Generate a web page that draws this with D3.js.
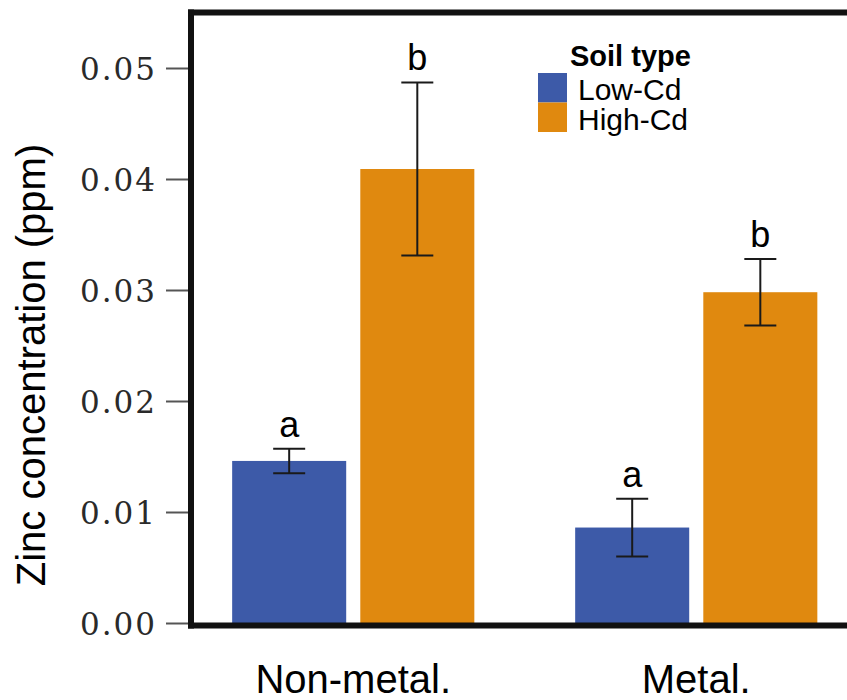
<!DOCTYPE html>
<html>
<head>
<meta charset="utf-8">
<script src="https://cdn.jsdelivr.net/npm/d3@7/dist/d3.min.js"></script>
<style>
  html, body { margin: 0; padding: 0; background: #fff; }
  svg { display: block; }
</style>
</head>
<body>
<svg id="chart" width="847" height="700"></svg>
<script>
// Zinc concentration by site and soil type (mean ± SE)
const sites = ["Non-metal.", "Metal."];
const soilTypes = ["Low-Cd", "High-Cd"];
const lowCdMean = [0.0146, 0.0086];
const lowCdSE = [0.0011, 0.0026];
const highCdMean = [0.0409, 0.0298];
const highCdSE = [0.0078, 0.0030];
const lowCdLetters = ["a", "a"];
const highCdLetters = ["b", "b"];
const yTicks = [0, 0.01, 0.02, 0.03, 0.04, 0.05];
const colors = ["#3d5aa8", "#e0890f"];

const rows = [];
sites.forEach((s, i) => {
  rows.push({ site: s, soil: soilTypes[0], mean: lowCdMean[i], se: lowCdSE[i], letter: lowCdLetters[i] });
  rows.push({ site: s, soil: soilTypes[1], mean: highCdMean[i], se: highCdSE[i], letter: highCdLetters[i] });
});

const svg = d3.select("#chart");
const plotLeft = 191, plotRight = 858.5, plotTop = 12.5, plotBottom = 623;

const y = d3.scaleLinear().domain([0, 0.055]).range([plotBottom, plotTop]);
const x0 = d3.scaleBand().domain(sites).range([plotLeft, plotRight])
  .paddingInner(0.294).paddingOuter(0.12);
const x1 = d3.scaleBand().domain(soilTypes).range([0, x0.bandwidth()])
  .paddingInner(0.11).paddingOuter(0);
const color = d3.scaleOrdinal().domain(soilTypes).range(colors);

// bars
svg.append("g").selectAll("rect").data(rows).join("rect")
  .attr("x", d => x0(d.site) + x1(d.soil))
  .attr("width", x1.bandwidth())
  .attr("y", d => y(d.mean))
  .attr("height", d => y(0) - y(d.mean))
  .attr("fill", d => color(d.soil));

// error bars
const capHalf = 16;
const eb = svg.append("g").attr("stroke", "#1a1a1a").attr("stroke-width", 2);
rows.forEach(d => {
  const cx = x0(d.site) + x1(d.soil) + x1.bandwidth() / 2;
  const yHi = y(d.mean + d.se), yLo = y(d.mean - d.se);
  eb.append("line").attr("x1", cx).attr("x2", cx).attr("y1", yHi).attr("y2", yLo);
  eb.append("line").attr("x1", cx - capHalf).attr("x2", cx + capHalf).attr("y1", yHi).attr("y2", yHi);
  eb.append("line").attr("x1", cx - capHalf).attr("x2", cx + capHalf).attr("y1", yLo).attr("y2", yLo);
});

// significance letters
svg.append("g").selectAll("text").data(rows).join("text")
  .attr("x", d => x0(d.site) + x1(d.soil) + x1.bandwidth() / 2)
  .attr("y", d => y(d.mean + d.se) - 12)
  .attr("text-anchor", "middle")
  .attr("font-family", "Liberation Sans, Arial, sans-serif")
  .attr("font-size", 36)
  .attr("fill", "#000")
  .text(d => d.letter);

// y axis
const yAxis = d3.axisLeft(y).tickValues(yTicks).tickFormat(d3.format(".2f"))
  .tickSize(25).tickPadding(9);
const ya = svg.append("g").attr("transform", `translate(${plotLeft},0)`).call(yAxis);
ya.select(".domain").remove();
ya.selectAll(".tick line").attr("stroke", "#555").attr("stroke-width", 2);
ya.selectAll(".tick text")
  .attr("font-family", "DejaVu Serif, serif")
  .attr("font-size", 31)
  .attr("letter-spacing", 2)
  .attr("fill", "#2a2a2a")
  .attr("dy", "0.36em");

// panel frame: left, top and bottom edges
const frame = svg.append("g").attr("stroke", "#111").attr("stroke-width", 6).attr("fill", "none");
frame.append("line").attr("x1", plotLeft).attr("x2", plotLeft).attr("y1", plotTop - 3).attr("y2", plotBottom + 5.5);
frame.append("line").attr("x1", plotLeft - 3).attr("x2", 870).attr("y1", plotTop).attr("y2", plotTop);
frame.append("line").attr("x1", plotLeft - 3).attr("x2", 870).attr("y1", plotBottom + 2.5).attr("y2", plotBottom + 2.5);

// x category labels
svg.append("g").selectAll("text").data(sites).join("text")
  .attr("x", d => x0(d) + x0.bandwidth() / 2)
  .attr("y", 693)
  .attr("text-anchor", "middle")
  .attr("font-family", "Liberation Sans, Arial, sans-serif")
  .attr("font-size", 40)
  .attr("fill", "#000")
  .text(d => d);

// y axis title
svg.append("text")
  .attr("transform", "translate(45,365) rotate(-90)")
  .attr("text-anchor", "middle")
  .attr("font-family", "Liberation Sans, Arial, sans-serif")
  .attr("font-size", 40)
  .attr("fill", "#000")
  .text("Zinc concentration (ppm)");

// legend
const lg = svg.append("g");
lg.append("text").attr("x", 570).attr("y", 66)
  .attr("font-family", "Liberation Sans, Arial, sans-serif")
  .attr("font-size", 29).attr("font-weight", "bold").attr("fill", "#000")
  .text("Soil type");
soilTypes.forEach((s, i) => {
  lg.append("rect").attr("x", 538).attr("y", 73 + i * 29.5)
    .attr("width", 29).attr("height", 29.5).attr("fill", color(s));
  lg.append("text").attr("x", 578).attr("y", 100 + i * 30)
    .attr("font-family", "Liberation Sans, Arial, sans-serif")
    .attr("font-size", 30).attr("fill", "#000")
    .text(s);
});
</script>
</body>
</html>
